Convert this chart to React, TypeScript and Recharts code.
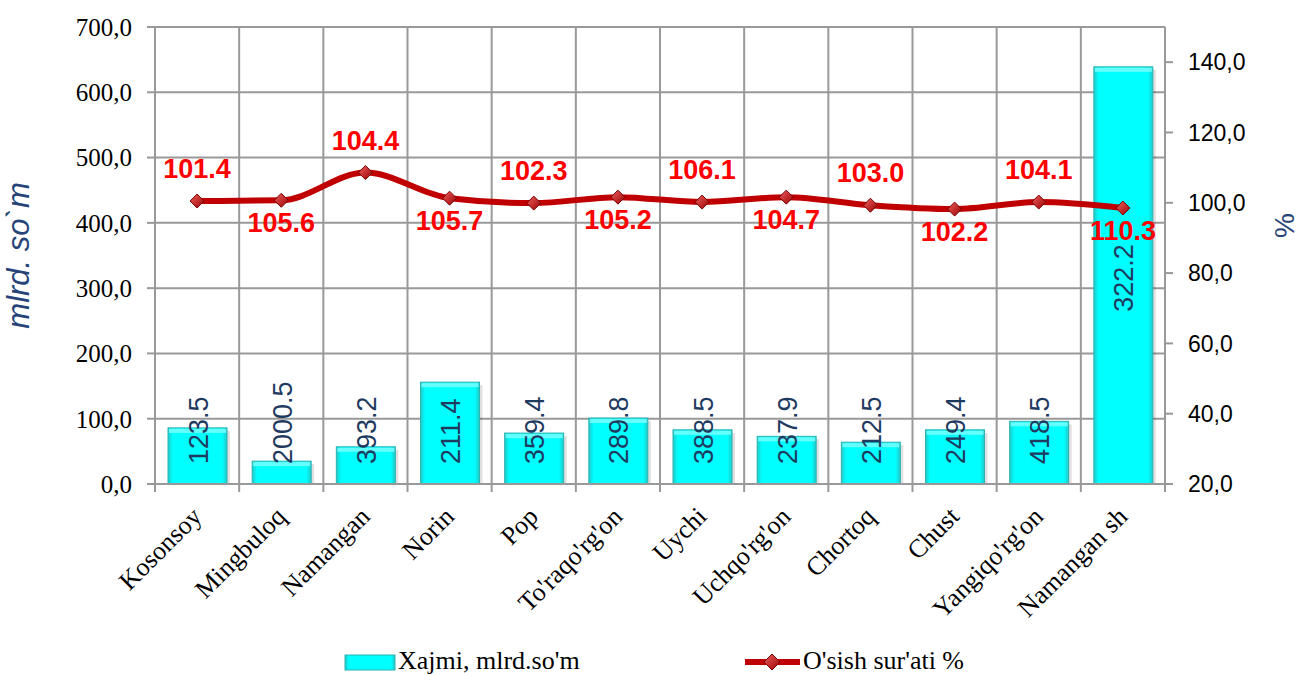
import { ComposedChart, Bar, Line, XAxis, YAxis, CartesianGrid, LabelList } from 'recharts';

const categories = ['Kosonsoy', 'Mingbuloq', 'Namangan', 'Norin', 'Pop', "To'raqo'rg'on", 'Uychi', "Uchqo'rg'on", 'Chortoq', 'Chust', "Yangiqo'rg'on", 'Namangan sh'];
const volume = [86, 35, 57, 156, 78, 101, 83, 73, 64, 83, 96, 639];
const volumeLabels = ['123.5', '2000.5', '393.2', '211.4', '359.4', '289.8', '388.5', '237.9', '212.5', '249.4', '418.5', '322.2'];
const growth = [100.5, 100.7, 108.6, 101.3, 99.9, 101.6, 100.2, 101.6, 99.3, 98.2, 100.2, 98.5];
const growthLabels = ['101.4', '105.6', '104.4', '105.7', '102.3', '105.2', '106.1', '104.7', '103.0', '102.2', '104.1', '110.3'];
const leftTicks = [0, 100, 200, 300, 400, 500, 600, 700];
const rightTicks = [20, 40, 60, 80, 100, 120, 140];

const data = categories.map((name, i) => ({
  name,
  volume: volume[i],
  volLabel: volumeLabels[i],
  growth: growth[i],
  growthLabel: growthLabels[i],
}));

const W = 1301;
const H = 675;
const PLOT_W = 1010;
const BAND = PLOT_W / categories.length;
const GRID = '#999999';
const TITLE = '#264478';

const fmt = (v: number) => v.toFixed(1).replace('.', ',');

const XTick = (props: any) => {
  const { x, y, payload, index } = props;
  const half = BAND / 2;
  return (
    <g>
      <line x1={x - half} x2={x - half} y1={y} y2={y + 8} stroke={GRID} strokeWidth={2} />
      {index === categories.length - 1 && (
        <line x1={x + half} x2={x + half} y1={y} y2={y + 8} stroke={GRID} strokeWidth={2} />
      )}
      <text
        transform={`translate(${x + 6},${y + 34}) rotate(-45)`}
        textAnchor="end"
        fontFamily="'Liberation Serif', serif"
        fontSize={26}
        fill="#000"
      >
        {payload.value}
      </text>
    </g>
  );
};

const BarLabel = (props: any) => {
  const { x, y, width, height, value } = props;
  const fs = 27;
  const len = String(value).length * fs * 0.54;
  const bottom = y + height;
  let start = bottom - 20;
  if (height > len + 40) start = y + height / 2 + len / 2;
  const bx = x + width / 2 + 10;
  return (
    <text
      transform={`translate(${bx},${start}) rotate(-90)`}
      textAnchor="start"
      fontFamily="'Liberation Sans', Arial, sans-serif"
      fontSize={fs}
      fill="#1F3A5F"
    >
      {value}
    </text>
  );
};

const LineLabel = (props: any) => {
  const { x, y, value, index } = props;
  const above = index % 2 === 0;
  return (
    <text
      x={x}
      y={above ? y - 23 : y + 32}
      textAnchor="middle"
      fontFamily="'Liberation Sans', Arial, sans-serif"
      fontWeight="bold"
      fontSize={27}
      fill="#FF0000"
    >
      {value}
    </text>
  );
};

const Diamond = (props: any) => {
  const { cx, cy, index } = props;
  if (cx == null || cy == null) return <g key={index} />;
  const s = 7;
  return (
    <path
      key={index}
      d={`M${cx},${cy - s} L${cx + s},${cy} L${cx},${cy + s} L${cx - s},${cy} Z`}
      fill="url(#diamondFill)"
      stroke="#7A0000"
      strokeWidth={1}
    />
  );
};

const BarShape = (props: any) => {
  const { x, y, width, height } = props;
  if (!height) return <g />;
  return (
    <g>
      <rect x={x + 3} y={y + 3} width={width} height={height - 3} fill="#000" opacity={0.12} />
      <rect x={x} y={y} width={width} height={height} fill="url(#barFill)" stroke="#2BB3B3" strokeWidth={1} />
      <rect x={x + 1} y={y + 1} width={width - 2} height={4} fill="#7FFFFF" opacity={0.8} />
    </g>
  );
};

export default function App() {
  return (
    <div style={{ position: 'absolute', left: 0, top: 0, width: W, height: H, background: '#fff' }}>
      <svg width={0} height={0} style={{ position: 'absolute' }}>
        <defs>
          <linearGradient id="barFill" x1="0" y1="0" x2="1" y2="0">
            <stop offset="0%" stopColor="#22C8C8" />
            <stop offset="8%" stopColor="#00FFFF" />
            <stop offset="92%" stopColor="#00FFFF" />
            <stop offset="100%" stopColor="#22C8C8" />
          </linearGradient>
          <linearGradient id="diamondFill" x1="0" y1="0" x2="1" y2="1">
            <stop offset="0%" stopColor="#F06060" />
            <stop offset="100%" stopColor="#9A0000" />
          </linearGradient>
        </defs>
      </svg>
      <ComposedChart width={W} height={H} data={data} margin={{ top: 27, right: 0, bottom: 0, left: 0 }}>
        <CartesianGrid
          yAxisId="left"
          stroke={GRID}
          strokeWidth={2}
          verticalCoordinatesGenerator={({ offset }: any) =>
            Array.from({ length: categories.length + 1 }, (_, i) => offset.left + (i * offset.width) / categories.length)
          }
        />
        <XAxis
          dataKey="name"
          height={191}
          interval={0}
          tickLine={false}
          tickSize={0}
          tickMargin={0}
          axisLine={{ stroke: GRID, strokeWidth: 2 }}
          tick={<XTick />}
        />
        <YAxis
          yAxisId="left"
          width={155}
          domain={[0, 700]}
          ticks={leftTicks}
          tickFormatter={fmt}
          tickSize={8}
          tickMargin={15}
          axisLine={{ stroke: GRID, strokeWidth: 2 }}
          tickLine={{ stroke: GRID, strokeWidth: 2 }}
          tick={{ fill: '#000', fontSize: 25, fontFamily: "'Liberation Serif', serif" }}
          label={{
            value: 'mlrd. so`m',
            angle: -90,
            position: 'insideLeft',
            dx: 13,
            style: { fill: TITLE, fontSize: 31, fontStyle: 'italic', fontFamily: "'Liberation Sans', Arial, sans-serif", textAnchor: 'middle' },
          }}
        />
        <YAxis
          yAxisId="right"
          orientation="right"
          width={136}
          domain={[20, 150]}
          ticks={rightTicks}
          tickFormatter={fmt}
          tickSize={8}
          tickMargin={15}
          axisLine={{ stroke: GRID, strokeWidth: 2 }}
          tickLine={{ stroke: GRID, strokeWidth: 2 }}
          tick={{ fill: '#000', fontSize: 23, fontFamily: "'Liberation Sans', Arial, sans-serif" }}
          label={{
            value: '%',
            angle: -90,
            position: 'insideRight',
            dx: -12,
            dy: -30,
            style: { fill: TITLE, fontSize: 28, fontFamily: "'Liberation Sans', Arial, sans-serif", textAnchor: 'middle' },
          }}
        />
        <Bar yAxisId="left" dataKey="volume" barSize={59} shape={<BarShape />} isAnimationActive={false}>
          <LabelList dataKey="volLabel" content={<BarLabel />} />
        </Bar>
        <Line
          yAxisId="right"
          dataKey="growth"
          type="monotone"
          stroke="#C00000"
          strokeWidth={6}
          dot={Diamond}
          activeDot={false}
          isAnimationActive={false}
        >
          <LabelList dataKey="growthLabel" content={<LineLabel />} />
        </Line>
      </ComposedChart>
      <div style={{ position: 'absolute', left: 0, top: 646, width: W, height: 29 }}>
        <svg width={W} height={29} style={{ position: 'absolute', left: 0, top: 0 }}>
          <rect x={345} y={9} width={50} height={15} fill="url(#barFill)" stroke="#2BB3B3" strokeWidth={1} />
          <line x1={745} x2={800} y1={16} y2={16} stroke="#C00000" strokeWidth={6} />
          <path d="M772,8 L780,16 L772,24 L764,16 Z" fill="url(#diamondFill)" stroke="#7A0000" strokeWidth={1} />
          <text x={398} y={23} fontFamily="'Liberation Serif', serif" fontSize={26} fill="#000">Xajmi, mlrd.so'm</text>
          <text x={803} y={23} fontFamily="'Liberation Serif', serif" fontSize={26} fill="#000">O'sish sur'ati %</text>
        </svg>
      </div>
    </div>
  );
}
